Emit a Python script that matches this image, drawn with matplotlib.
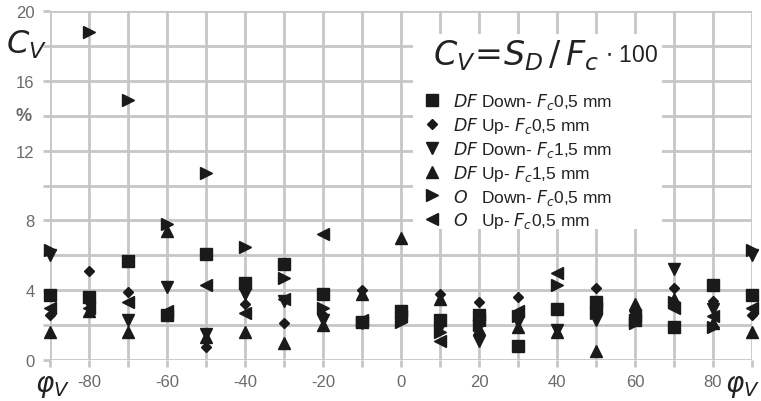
import matplotlib
matplotlib.use("Agg")
import matplotlib.pyplot as plt
from matplotlib.patches import Rectangle
import matplotlib.transforms as mtransforms

plt.rcParams['font.family'] = ['Liberation Sans', 'DejaVu Sans']
plt.rcParams['mathtext.fontset'] = 'dejavusans'

# ---- data ----
phi = [-90, -80, -70, -60, -50, -40, -30, -20, -10, 0, 10, 20, 30, 40, 50, 60, 70, 80, 90]
df_down_05 = [3.7, 3.6, 5.7, 2.6, 6.1, 4.4, 5.5, 3.8, 2.2, 2.8, 2.3, 2.6, 0.8, 2.9, 3.3, 2.3, 1.9, 4.3, 3.7]
df_up_05 = [2.6, 5.1, 3.9, 2.7, 0.75, 3.2, 2.1, 2.6, 4.0, 2.6, 3.8, 3.3, 3.6, 3.0, 4.1, 2.8, 4.1, 3.4, 2.6]
df_down_15 = [6.0, 3.2, 2.3, 4.2, 1.5, 3.8, 3.4, 2.3, 2.1, 2.4, 1.9, 1.1, 2.2, 1.7, 2.3, 2.5, 5.2, 2.9, 6.0]
df_up_15 = [1.6, 2.8, 1.6, 7.4, 1.3, 1.6, 1.0, 2.0, 3.8, 7.0, 3.5, 1.8, 1.9, 1.6, 0.5, 3.2, 3.5, 2.1, 1.6]
o_down_05 = [6.3, 18.8, 14.9, 7.8, 10.7, 6.5, 4.7, 3.0, 2.2, 2.2, 1.6, 2.0, 2.5, 4.3, 2.7, 2.1, 3.3, 1.9, 6.3]
o_up_05 = [3.0, 3.0, 3.3, 2.8, 4.3, 2.7, 3.5, 7.2, 2.3, 2.5, 1.1, 2.3, 2.8, 5.0, 3.0, 2.6, 3.0, 2.5, 3.0]

labels = [
    r"$\mathit{DF}$ Down- $\mathit{F_c}$0,5 mm",
    r"$\mathit{DF}$ Up- $\mathit{F_c}$0,5 mm",
    r"$\mathit{DF}$ Down- $\mathit{F_c}$1,5 mm",
    r"$\mathit{DF}$ Up- $\mathit{F_c}$1,5 mm",
    r"$\mathit{O}$   Down- $\mathit{F_c}$0,5 mm",
    r"$\mathit{O}$   Up- $\mathit{F_c}$0,5 mm",
]
series_vals = [df_down_05, df_up_05, df_down_15, df_up_15, o_down_05, o_up_05]
markers = ['s', 'D', 'v', '^', '>', '<']
msizes = [8, 5.5, 9, 9, 9, 9]

xticks = list(range(-90, 91, 10))
xlabels = ['' if (v % 20 != 0 or abs(v) == 90) else str(v) for v in xticks]
yticks = list(range(0, 21, 2))
ylabels = [str(v) if v % 4 == 0 else '' for v in yticks]

mark_color = '#1a1a1a'
grid_color = '#c6c6c6'
tick_text = '#6a6a6a'

fig = plt.figure(figsize=(7.61, 4.02), dpi=100)
ax = fig.add_axes([50 / 761, 41 / 402, 702 / 761, 349 / 402])
ax.set_xlim(-90, 90)
ax.set_ylim(0, 20)
for s in ax.spines.values():
    s.set_visible(False)
ax.set_axisbelow(True)
ax.grid(True, color=grid_color, linewidth=2.0)
ax.set_xticks(xticks, xlabels)
ax.set_yticks(yticks, ylabels)
ax.tick_params(axis='both', length=5, width=2.0, color=grid_color,
               labelcolor=tick_text, labelsize=12)
ax.tick_params(axis='x', pad=5)
ax.tick_params(axis='y', pad=6)

# white box behind the formula/legend
ax.add_patch(Rectangle((3, 7.5), 64, 11.2, facecolor='white', edgecolor='none', zorder=1))

handles = []
for vals, m, ms, lab in zip(series_vals, markers, msizes, labels):
    ln, = ax.plot(phi, vals, linestyle='none', marker=m, markersize=ms,
                  color=mark_color, clip_on=False, zorder=3, label=lab)
    handles.append(ln)

leg = ax.legend(handles=handles, loc='upper left', bbox_to_anchor=(0.534, 0.771),
                frameon=False, fontsize=12.5, handlelength=0.8, handletextpad=0.8,
                labelspacing=0.225, borderpad=0.0, borderaxespad=0.0)
for t in leg.get_texts():
    t.set_color('#222222')
leg.set_zorder(5)

t1 = ax.text(8.2, 17.5, r"$C_V\!=\!S_D\,/\,F_c$", fontsize=24, color='#222222',
             ha='left', va='center', zorder=6)
ax.annotate(r"$\cdot$ 100", xy=(1, 0.16), xycoords=t1, xytext=(4, 0),
            textcoords='offset points', fontsize=16.5, color='#222222',
            ha='left', va='bottom', zorder=6)

# axis symbols
trans_y = mtransforms.blended_transform_factory(ax.transAxes, ax.transData)
ax.text(-0.033, 18.1, r"$C_V$", transform=trans_y, fontsize=23, color='#222222',
        ha='center', va='center')
ax.text(-0.037, 14.0, "%", transform=trans_y, fontsize=13, fontweight='bold',
        color=tick_text, ha='center', va='center')
trans_x = mtransforms.blended_transform_factory(ax.transData, ax.transAxes)
ax.text(-89.5, -0.075, r"$\varphi_V$", transform=trans_x, fontsize=20, color='#222222',
        ha='center', va='center')
ax.text(87.5, -0.075, r"$\varphi_V$", transform=trans_x, fontsize=20, color='#222222',
        ha='center', va='center')

fig.savefig('out.png', dpi=100)
